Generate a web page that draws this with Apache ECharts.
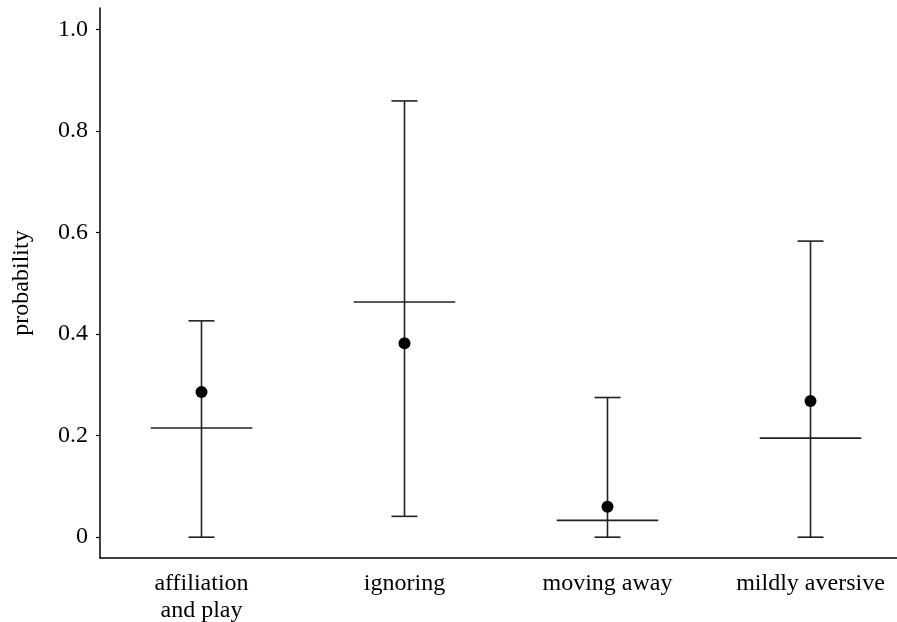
<!DOCTYPE html>
<html>
<head>
<meta charset="utf-8">
<script src="https://cdn.jsdelivr.net/npm/echarts@6/dist/echarts.min.js"></script>
<style>
  html, body { margin: 0; padding: 0; background: #fff; }
  #chart { width: 897px; height: 622px; }
</style>
</head>
<body>
<div id="chart"></div>
<script>
// categories and values
var categories = ['affiliation\nand play', 'ignoring', 'moving away', 'mildly aversive'];
var pointValues = [0.286, 0.382, 0.060, 0.268];   // black dots
var lowerValues = [0, 0.041, 0, 0];               // whisker bottoms
var upperValues = [0.426, 0.859, 0.275, 0.583];   // whisker tops
var refValues = [0.215, 0.463, 0.033, 0.195];     // wide horizontal lines
var yTicks = [0, 0.2, 0.4, 0.6, 0.8, 1.0];

var FONT = '"Liberation Serif", "DejaVu Serif", serif';

var myChart = echarts.init(document.getElementById('chart'));

var whiskerData = categories.map(function (c, i) { return [i, lowerValues[i], upperValues[i]]; });
var refData = categories.map(function (c, i) { return [i, refValues[i]]; });
var pointData = categories.map(function (c, i) { return [i, pointValues[i]]; });

var option = {
  animation: false,
  // the plot runs past the right edge of the picture
  grid: { left: 100, top: 8, right: -15, bottom: 64, outerBoundsMode: 'none', containLabel: false },
  xAxis: {
    type: 'category',
    data: categories,
    boundaryGap: true,
    axisLine: { onZero: false, lineStyle: { color: '#000', width: 1.5 } },
    axisTick: { show: false },
    axisLabel: {
      color: '#000', fontFamily: FONT, fontSize: 24, lineHeight: 27, margin: 12,
      interval: 0
    },
    splitLine: { show: false }
  },
  yAxis: {
    type: 'value',
    min: -0.041,
    max: 1.042,
    name: 'probability',
    nameLocation: 'middle',
    nameGap: 66,
    nameTextStyle: { color: '#000', fontFamily: FONT, fontSize: 24 },
    axisLine: { show: true, lineStyle: { color: '#000', width: 1.5 } },
    axisTick: { show: true, length: 4, customValues: yTicks, lineStyle: { color: '#000', width: 1.2 } },
    axisLabel: {
      customValues: yTicks,
      color: '#000', fontFamily: FONT, fontSize: 24, margin: 12,
      formatter: function (v) { return v === 0 ? '0' : v.toFixed(1); }
    },
    splitLine: { show: false }
  },
  series: [
    {
      name: 'interval',
      type: 'custom',
      data: whiskerData,
      renderItem: function (params, api) {
        var x = api.value(0);
        var lo = api.coord([x, api.value(1)]);
        var hi = api.coord([x, api.value(2)]);
        var half = 13;
        var style = { stroke: '#222', lineWidth: 1.6 };
        return {
          type: 'group',
          children: [
            { type: 'line', shape: { x1: lo[0], y1: lo[1], x2: hi[0], y2: hi[1] }, style: style },
            { type: 'line', shape: { x1: lo[0] - half, y1: lo[1], x2: lo[0] + half, y2: lo[1] }, style: style },
            { type: 'line', shape: { x1: hi[0] - half, y1: hi[1], x2: hi[0] + half, y2: hi[1] }, style: style }
          ]
        };
      },
      z: 2
    },
    {
      name: 'reference',
      type: 'custom',
      data: refData,
      renderItem: function (params, api) {
        var p = api.coord([api.value(0), api.value(1)]);
        var half = api.size([1, 0])[0] / 4;
        return {
          type: 'line',
          shape: { x1: p[0] - half, y1: p[1], x2: p[0] + half, y2: p[1] },
          style: { stroke: '#222', lineWidth: 1.6 }
        };
      },
      z: 2
    },
    {
      name: 'estimate',
      type: 'scatter',
      data: pointData,
      symbol: 'circle',
      symbolSize: 12,
      itemStyle: { color: '#000', opacity: 1 },
      z: 3
    }
  ]
};

option && myChart.setOption(option);
</script>
</body>
</html>
